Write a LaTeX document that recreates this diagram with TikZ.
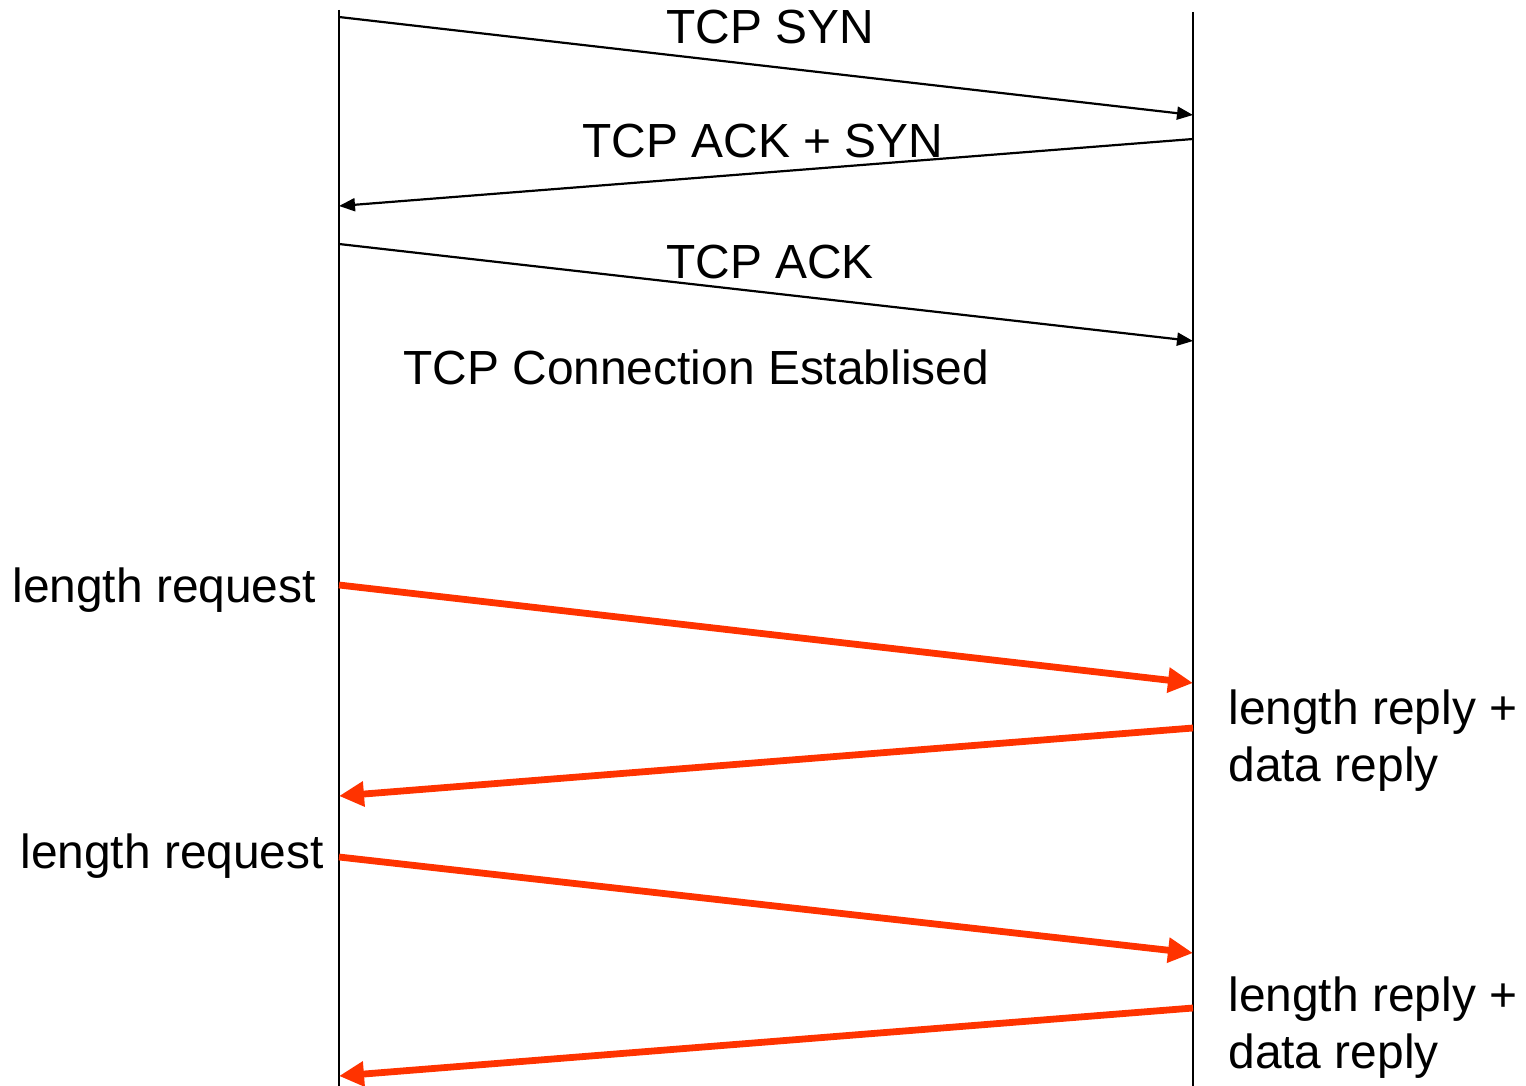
\documentclass[tikz,border=0pt]{standalone}
\usepackage{fontspec}
\setmainfont{Liberation Sans}
\usetikzlibrary{arrows.meta}
\definecolor{msgred}{HTML}{FF3300}
\tikzset{
  lifeline/.style={line width=1.1pt, black},
  thinmsg/.style={line width=1.1pt, black, -{Triangle[length=8pt,width=6.5pt]}},
  redmsg/.style={line width=3.4pt, msgred, -{Triangle[length=12.5pt,width=12pt]}},
  lbl/.style={inner sep=0pt, font=\fontsize{23.95}{28.5}\selectfont},
}
\begin{document}
\begin{tikzpicture}[x=0.5pt,y=-0.5pt]
\useasboundingbox (0,0) rectangle (1526,1086);
% lifelines
\coordinate (Ltop) at (339,10);
\coordinate (Lbot) at (339,1086);
\coordinate (Rtop) at (1193,12);
\coordinate (Rbot) at (1193,1086);
\draw[lifeline] (Ltop) -- (Lbot);
\draw[lifeline] (Rtop) -- (Rbot);
% message end points
\coordinate (a1) at (339,17);   \coordinate (b1) at (1193,115);
\coordinate (b2) at (1193,139); \coordinate (a2) at (339,206);
\coordinate (a3) at (339,244);  \coordinate (b3) at (1193,341);
\coordinate (a4) at (339,585);  \coordinate (b4) at (1193,683);
\coordinate (b5) at (1193,728); \coordinate (a5) at (339,796);
\coordinate (a6) at (339,857);  \coordinate (b6) at (1193,953);
\coordinate (b7) at (1193,1008);\coordinate (a7) at (339,1076);
\draw[thinmsg] (a1) -- (b1);
\draw[thinmsg] (b2) -- (a2);
\draw[thinmsg] (a3) -- (b3);
\draw[redmsg] (a4) -- (b4);
\draw[redmsg] (b5) -- (a5);
\draw[redmsg] (a6) -- (b6);
\draw[redmsg] (b7) -- (a7);
% labels
\node[lbl, anchor=base] (t1) at (770,44) {TCP SYN};
\node[lbl, anchor=base] (t2) at (763,157) {TCP ACK + SYN};
\node[lbl, anchor=base] (t3) at (770,278) {TCP ACK};
\node[lbl, anchor=base west] (t4) at (403,384) {TCP Connection Establised};
\node[lbl, anchor=base west] (t5) at (12,602) {length request};
\node[lbl, anchor=base west] (t6) at (1228,724) {length reply +};
\node[lbl, anchor=base west] (t7) at (1228,781) {data reply};
\node[lbl, anchor=base west] (t8) at (20,868) {length request};
\node[lbl, anchor=base west] (t9) at (1228,1011) {length reply +};
\node[lbl, anchor=base west] (t10) at (1228,1068) {data reply};
\end{tikzpicture}
\end{document}
